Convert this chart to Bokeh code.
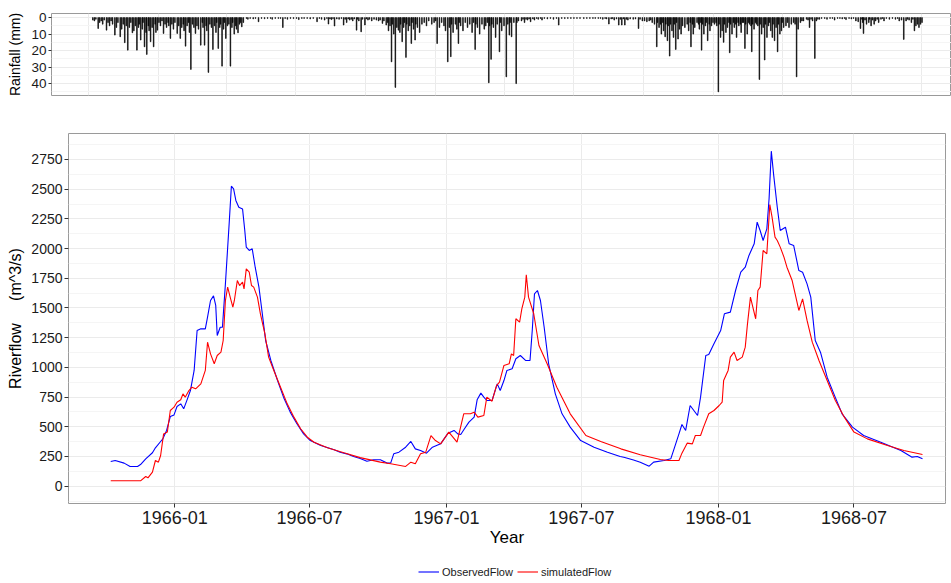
import pandas as pd
from bokeh.plotting import figure
from bokeh.models import (Range1d, FixedTicker, DatetimeTickFormatter, Legend, LegendItem)
from bokeh.embed import file_html
from bokeh.resources import INLINE

# ---------------- data (day offset from 1966-01-01, value) ----------------
BASE_DATE = "1966-01-01"

rain_wet_1965_66 = [(-86,1.5),(-84,2),(-82,1),(-79,6.6),(-77,3),(-75,2),(-73,4),(-71,1.5),(-68,7.6),(-66,3),
    (-64,5),(-62,2),(-60,4),(-57,10.6),(-55,6),(-53,3),(-50,11.6),(-48,7),(-46,4),(-44,15.2),(-42,5),
    (-40,19.7),(-38,6),(-36,3),(-34,9.2),(-32,8),(-30,5),(-28,19.7),(-26,6),(-25,4),(-23,13.6),(-21,7),
    (-20,3),(-18,17.7),(-16,9),(-15,22.3),(-13,5),(-12,8),(-10,14.6),(-8,6),(-6,17.7),(-4,4),(-3,9),
    (-1,7.6),(1,3),(3,5),(5,2),(7,9.6),(9,4),(11,6),(13,3),(14,5),(16,12.6),(18,4),(20,7),(22,3),(25,9.6),
    (27,5),(29,12.6),(31,6),(33,4),(34,8),(36,17.3),(38,5),(40,3),(41,9),(43,31.4),(45,4),(47,6),(49,9.6),
    (51,5),(53,7),(56,16.7),(58,3),(59,6),(61,16.7),(63,5),(64,8),(66,33.2),(68,4),(70,6),(72,19.3),(74,5),
    (76,9),(77,3),(79,18.7),(81,6),(82,4),(84,29.4),(86,7),(87,3),(89,12.6),(91,5),(93,4),(95,29.4),(97,6),
    (98,3),(100,10),(102,5),(103,7),(105,9.2),(107,4),(108,3),(110,5.6),(112,3)]
rain_dry_1966 = [(116,0.5),(118,1),(121,0.5),(125,0.8),(128,0.5),(132,2.5),(136,0.5),(140,0.7),(144,0.5),
    (148,0.5),(150,1),(154,0.5),(158,0.5),(161,0.5),(164,6),(167,0.5),(170,1),(174,0.5),(178,0.6),(182,0.5),
    (185,1.2),(189,0.5),(192,0.5),(196,0.5),(200,0.8),(204,0.5),(209,2.5),(212,0.5),(215,1),(219,1.5),
    (222,0.5),(224,3.9),(226,0.8),(228,1.2),(230,0.6),(232,5.1),(235,0.8),(238,1),(241,0.6),(244,4.5),
    (246,1),(248,3),(250,0.8),(252,1.5),(254,1),(256,2),(258,0.8),(261,7.6),(262,1),(264,2),(267,8.6),
    (269,1),(272,4.5),(274,0.8),(276,1.5),(278,1),(281,2),(284,1),(287,1.5),(290,2),(292,1.5)]
rain_wet_1966_67 = [(295,3.5),(297,2),(300,4.5),(302,3),(303,8),(305,5),(307,26.8),(308,4),(310,10),
    (312,42.3),(314,6),(316,7.6),(318,9),(319,4),(321,14.6),(323,6),(324,3),(326,24.1),(327,4),(329,8),
    (331,5),(333,15.7),(334,3),(336,7),(338,13.6),(339,4),(341,6),(344,9),(347,4),(350,3),(353,5),(356,2),
    (360,4),(363,3),(365,2),(367,15.7),(370,6),(373,3),(376,5),(378,8),(381,26.8),(383,6),(385,23.7),
    (386,4),(388,9),(391,4),(393,7),(395,15.7),(396,3),(398,5),(401,8),(404,3),(407,6),(410,4),(413,9),
    (415,3),(417,19.3),(418,4),(420,6),(423,10),(426,4),(429,7),(431,5),(433,3),(435,39.5),(436,5),
    (438,25.3),(439,4),(441,6),(444,12),(446,4),(449,20.7),(450,3),(452,8),(455,5),(458,35.9),(460,4),
    (462,10.6),(463,3),(465,11.6),(468,3),(471,40),(472,3),(474,2)]
rain_dry_1967 = [(478,2),(480,1),(482,3),(484,1),(486,1.5),(488,0.8),(490,2.5),(493,0.8),(495,1.5),
    (498,0.5),(500,1),(503,0.5),(505,1.5),(508,0.5),(512,0.8),(516,0.5),(520,1),(524,0.5),(527,4.5),
    (531,0.5),(535,0.6),(539,0.5),(543,0.5),(547,0.5),(551,0.5),(555,0.5),(560,0.6),(564,0.5),(568,0.5),
    (572,0.5),(575,0.5),(579,0.5),(582,0.5),(585,1),(588,0.5),(590,0.8),(593,3.9),(596,0.8),(598,0.6),
    (600,1.5),(603,0.8),(606,4.5),(608,1),(610,4.5),(612,0.8),(614,4.5),(616,1),(618,1.5),(621,0.8),
    (625,1),(628,0.8),(632,6.6),(634,1),(637,2)]
rain_wet_1967_68 = [(640,2),(643,2.5),(646,2),(648,1.5),(650,3),(653,4),(656,17.7),(657,3),(659,6),(661,4),
    (662,10),(664,3),(665,8),(667,11.6),(668,4),(670,14),(671,5),(673,23.3),(674,4),(676,8),(678,12),
    (679,4),(681,19.3),(682,3),(684,13),(686,7),(688,10),(690,5),(693,6),(696,4),(698,8),(700,3),
    (701,17.7),(703,4),(704,10),(706,6),(709,3),(711,4),(712,7),(714,3),(715,19.7),(716,4),(718,10),
    (720,5),(721,3),(723,14),(725,4),(726,8),(728,5),(730,3),(732,4),(734,3),(735,5),(737,45),(738,4),
    (740,12),(742,8),(744,15),(745,4),(747,9),(749,6),(751,3),(752,21.3),(753,4),(755,10),(757,3),(758,6),
    (760,4),(761,12),(763,3),(764,5),(766,4),(767,9),(769,3),(770,3),(772,18.7),(773,4),(775,10),(777,3),
    (778,4),(780,5),(781,20.7),(782,4),(784,7),(786,3),(787,4),(789,5),(791,37.5),(792,4),(794,10),
    (796,6),(798,25.7),(799,4),(801,12),(803,5),(804,3),(806,8),(808,12),(809,4),(811,14),(813,6),
    (815,20.7),(816,4),(818,10),(820,8),(821,3),(823,6),(826,5),(828,3),(830,6),(833,4),(836,3),(838,4),
    (840,35.9),(842,7),(845,3),(847,2),(849,2),(853,1),(855,1.5),(857,6),(859,1),(861,2),(864,24.7),
    (866,2),(868,1),(870,1)]
rain_dry_1968 = [(873,0.5),(877,0.5),(880,1),(884,0.5),(887,0.5),(890,1.5),(894,0.5),(897,0.5),(900,0.8),
    (903,0.5),(905,1.2),(909,0.5),(912,0.8),(915,0.5),(918,2),(921,2.5),(924,6.6),(926,1),(927,3),
    (928,9.6),(930,1.5),(932,4),(935,3),(936,1),(938,5),(940,1.5),(942,4),(944,2),(946,1),(948,3),(951,1),
    (953,0.5),(955,2),(958,0.5),(962,1),(966,0.5),(970,1),(973,0.5),(975,2),(978,1.5),(981,13.2),(984,2),
    (986,1),(988,1.5),(991,3),(993,1),(995,8),(997,5),(999,4),(1001,6),(1003,4),(1005,3)]

observed_flow = [(-86,208),(-80,216),(-68,194),(-60,166),(-50,166),(-46,182),(-39,230),(-30,281),(-26,323),
    (-19,376),(-16,398),(-11,469),(-6,586),(-1,600),(3,671),(8,693),(12,651),(17,735),(21,805),(26,974),
    (30,1310),(35,1324),(41,1324),(44,1423),(48,1563),(52,1602),(55,1521),(57,1268),(61,1338),(64,1338),
    (68,1703),(73,2208),(76,2525),(79,2503),(82,2405),(86,2348),(91,2334),(94,2152),(96,2012),(100,1984),
    (104,1998),(108,1843),(113,1675),(117,1479),(122,1226),(129,1058),(138,889),(146,749),(155,623),
    (164,525),(173,440),(182,384),(196,342),(214,306),(222,285),(231,272),(240,250),(249,232),(258,210),
    (267,222),(276,222),(285,194),(290,196),(294,272),(301,286),(310,328),(317,376),(323,314),(330,300),
    (338,278),(346,328),(357,356),(367,446),(375,469),(380,440),(384,435),(389,483),(395,539),(402,581),
    (406,727),(411,783),(415,749),(419,721),(426,721),(433,861),(437,805),(442,889),(446,974),(453,988),
    (458,1072),(464,1100),(471,1058),(477,1058),(480,1310),(483,1619),(487,1647),(491,1563),(496,1338),
    (502,1030),(511,777),(520,609),(531,497),(545,384),(563,328),(581,286),(598,250),(603,244),(616,220),
    (625,202),(637,168),(643,202),(657,216),(666,230),(670,306),(677,440),(681,519),(686,469),(692,679),
    (697,637),(702,595),(706,749),(713,1100),(717,1108),(724,1198),(733,1310),(738,1451),(746,1465),
    (753,1647),(760,1801),(766,1843),(771,1942),(778,2040),(782,2222),(786,2152),(790,2068),(795,2166),
    (798,2419),(801,2820),(804,2629),(809,2348),(813,2152),(820,2180),(825,2040),(831,2026),(838,1815),
    (843,1801),(849,1703),(854,1591),(860,1226),(867,1128),(876,917),(885,777),(896,609),(910,497),
    (925,426),(948,370),(975,300),(990,244),(997,250),(1004,230)]

simulated_flow = [(-86,45),(-46,45),(-39,81),(-36,70),(-30,118),(-26,216),(-22,202),(-19,258),(-15,440),
    (-10,455),(-6,637),(-1,665),(3,707),(8,727),(11,777),(14,749),(19,805),(23,833),(28,819),(35,861),
    (41,974),(44,1212),(48,1114),(53,1030),(57,1100),(62,1128),(65,1226),(68,1563),(71,1675),(75,1577),
    (78,1507),(80,1563),(84,1731),(87,1689),(91,1717),(93,1661),(96,1829),(100,1801),(103,1689),(106,1675),
    (111,1591),(115,1451),(121,1282),(126,1086),(133,974),(142,833),(151,693),(160,581),(169,483),(178,412),
    (187,370),(205,323),(227,281),(249,240),(276,202),(290,188),(310,166),(317,202),(323,188),(330,272),
    (337,286),(344,426),(350,384),(357,356),(368,455),(379,370),(388,609),(397,609),(402,623),(407,581),
    (415,595),(419,749),(426,715),(432,847),(436,875),(442,1016),(449,1030),(452,1114),(455,1100),
    (458,1409),(463,1380),(466,1493),(470,1591),(472,1779),(475,1591),(482,1451),(489,1184),(500,1030),
    (513,833),(531,609),(552,426),(572,376),(599,314),(625,265),(652,224),(663,216),(677,216),(681,278),
    (688,362),(695,356),(699,426),(706,426),(710,497),(717,609),(724,637),(731,679),(735,707),(737,889),
    (743,974),(746,1086),(751,1128),(755,1058),(762,1086),(766,1170),(769,1366),(773,1591),(780,1409),
    (783,1647),(786,1675),(790,1984),(795,1956),(799,2371),(802,2264),(806,2096),(809,2068),(813,2012),
    (818,1928),(822,1843),(829,1731),(834,1591),(838,1479),(843,1577),(849,1395),(856,1212),(865,1058),
    (876,889),(887,721),(899,581),(912,455),(930,398),(957,342),(979,300),(1004,267)]

flow_ticks = [0, 250, 500, 750, 1000, 1250, 1500, 1750, 2000, 2250, 2500, 2750]
rain_ticks = [0, 10, 20, 30, 40]
date_ticks = ["1966-01-01", "1966-07-01", "1967-01-01", "1967-07-01", "1968-01-01", "1968-07-01"]
quarter_lines = ["1965-10-01", "1966-01-01", "1966-04-01", "1966-07-01", "1966-10-01", "1967-01-01",
                 "1967-04-01", "1967-07-01", "1967-10-01", "1968-01-01", "1968-04-01", "1968-07-01",
                 "1968-10-01"]
legend_labels = ["ObservedFlow", "simulatedFlow"]
series_colors = ["#0000ff", "#ff0000"]

# ---------------- helpers ----------------
base = pd.Timestamp(BASE_DATE)
EPOCH = pd.Timestamp("1970-01-01")
DAY_MS = 86400000.0


def day_to_ms(d):
    return (base - EPOCH).total_seconds() * 1000.0 + d * DAY_MS


def date_ms(s):
    return (pd.Timestamp(s) - EPOCH).total_seconds() * 1000.0


def unzip(pairs):
    return [day_to_ms(d) for d, _ in pairs], [v for _, v in pairs]


FONT = "Liberation Sans"
NBSP = "\u00a0"

rain_pairs = (rain_wet_1965_66 + rain_dry_1966 + rain_wet_1966_67 + rain_dry_1967
              + rain_wet_1967_68 + rain_dry_1968)
rx, ry = unzip(rain_pairs)
ox, oy = unzip(observed_flow)
sx, sy = unzip(simulated_flow)

# ---------------- rainfall panel ----------------
rain = figure(width=951, height=100, x_axis_type="datetime", x_axis_location=None,
              x_range=Range1d(day_to_ms(-140.4), day_to_ms(1043.8)),
              y_range=Range1d(47.2, -2.5),
              output_backend="svg", toolbar_location=None,
              min_border_left=51, min_border_right=0, min_border_top=13, min_border_bottom=5)
rain.vbar(x=rx, top=ry, bottom=0, width=DAY_MS * 0.9, fill_color="black",
          line_color="black", line_width=0.6)
rain.xgrid.ticker = FixedTicker(ticks=[date_ms(s) for s in quarter_lines])
rain.xgrid.grid_line_color = "#ebebeb"
rain.yaxis.ticker = FixedTicker(ticks=rain_ticks, minor_ticks=[5, 15, 25, 35, 45])
rain.ygrid.ticker = FixedTicker(ticks=rain_ticks, minor_ticks=[5, 15, 25, 35, 45])
rain.ygrid.grid_line_color = "#ebebeb"
rain.ygrid.minor_grid_line_color = "#f5f5f5"
rain.yaxis.axis_label = "Rainfall (mm)"
rain.yaxis.axis_label_text_font = FONT
rain.yaxis.axis_label_text_font_size = "14px"
rain.yaxis.axis_label_text_font_style = "normal"
rain.yaxis.axis_label_text_color = "black"
rain.yaxis.axis_label_standoff = 5
rain.yaxis.major_label_text_font = FONT
rain.yaxis.major_label_text_font_size = "13.5px"
rain.yaxis.major_label_text_color = "#1a1a1a"
rain.yaxis.major_label_standoff = 1
rain.yaxis.axis_line_color = None
rain.yaxis.major_tick_out = 3
rain.yaxis.major_tick_in = 0
rain.yaxis.major_tick_line_color = "#333333"
rain.yaxis.minor_tick_line_color = None
rain.outline_line_color = "#9a9a9a"
rain.outline_line_width = 1
rain.background_fill_color = "white"

# ---------------- river flow panel ----------------
p = figure(width=951, height=460, x_axis_type="datetime",
           x_range=Range1d(day_to_ms(-142.7), day_to_ms(1034.9)),
           y_range=Range1d(-146, 2968.6),
           output_backend="svg", toolbar_location=None,
           min_border_left=68, min_border_right=6, min_border_top=33, min_border_bottom=57)
r_obs = p.line(ox, oy, line_color=series_colors[0], line_width=1.1)
r_sim = p.line(sx, sy, line_color=series_colors[1], line_width=1.1)

minor_flow = [125 + 250 * i for i in range(-1, 12)]
p.yaxis.ticker = FixedTicker(ticks=flow_ticks, minor_ticks=minor_flow)
p.ygrid.ticker = FixedTicker(ticks=flow_ticks, minor_ticks=minor_flow)
p.ygrid.grid_line_color = "#ebebeb"
p.ygrid.minor_grid_line_color = "#f5f5f5"
xt = FixedTicker(ticks=[date_ms(s) for s in date_ticks])
p.xaxis.ticker = xt
p.xgrid.ticker = xt
p.xgrid.grid_line_color = "#ebebeb"
fmt = "%Y-%m"
p.xaxis.formatter = DatetimeTickFormatter(years=fmt, months=fmt, days=fmt, hours=fmt,
                                          minutes=fmt, seconds=fmt, milliseconds=fmt,
                                          microseconds=fmt, hourmin=fmt, minsec=fmt)

p.xaxis.axis_label = "Year"
p.yaxis.axis_label = "Riverflow" + NBSP * 5 + "(m^3/s)"
for ax in (p.xaxis, p.yaxis):
    ax.axis_label_text_font = FONT
    ax.axis_label_text_font_style = "normal"
    ax.axis_label_text_color = "black"
    ax.major_label_text_font = FONT
    ax.major_label_text_color = "#1a1a1a"
    ax.axis_line_color = None
    ax.major_tick_in = 0
    ax.major_tick_out = 4
    ax.major_tick_line_color = "#333333"
    ax.minor_tick_line_color = None
p.xaxis.axis_label_text_font_size = "17px"
p.xaxis.major_label_text_font_size = "18px"
p.xaxis.major_label_standoff = 3
p.xaxis.axis_label_standoff = 1
p.yaxis.axis_label_text_font_size = "16px"
p.yaxis.major_label_text_font_size = "14px"
p.yaxis.major_label_standoff = 2
p.yaxis.axis_label_standoff = 4
p.outline_line_color = "#9a9a9a"
p.outline_line_width = 1

# ---------------- legend strip ----------------
lg = figure(width=951, height=23, x_range=Range1d(0, 1), y_range=Range1d(0, 1),
            x_axis_location=None, y_axis_location=None,
            output_backend="svg", toolbar_location=None,
            min_border_left=0, min_border_right=0, min_border_top=0, min_border_bottom=0)
lg.grid.visible = False
lg.outline_line_color = None
nan = float("nan")
key_obs = lg.line(x=[nan], y=[nan], line_color=series_colors[0], line_width=1.1)
key_sim = lg.line(x=[nan], y=[nan], line_color=series_colors[1], line_width=1.1)
legend = Legend(items=[LegendItem(label=legend_labels[0], renderers=[key_obs]),
                       LegendItem(label=legend_labels[1], renderers=[key_sim])],
                location=(418, 0), orientation="horizontal",
                label_text_font=FONT, label_text_font_size="11px", label_text_color="#1a1a1a",
                glyph_width=21, glyph_height=23, label_height=23, label_standoff=3,
                spacing=4, padding=0, margin=0, border_line_color=None,
                background_fill_alpha=0)
lg.add_layout(legend, "center")

open("out.html", "w").write(file_html([rain, p, lg], INLINE))
